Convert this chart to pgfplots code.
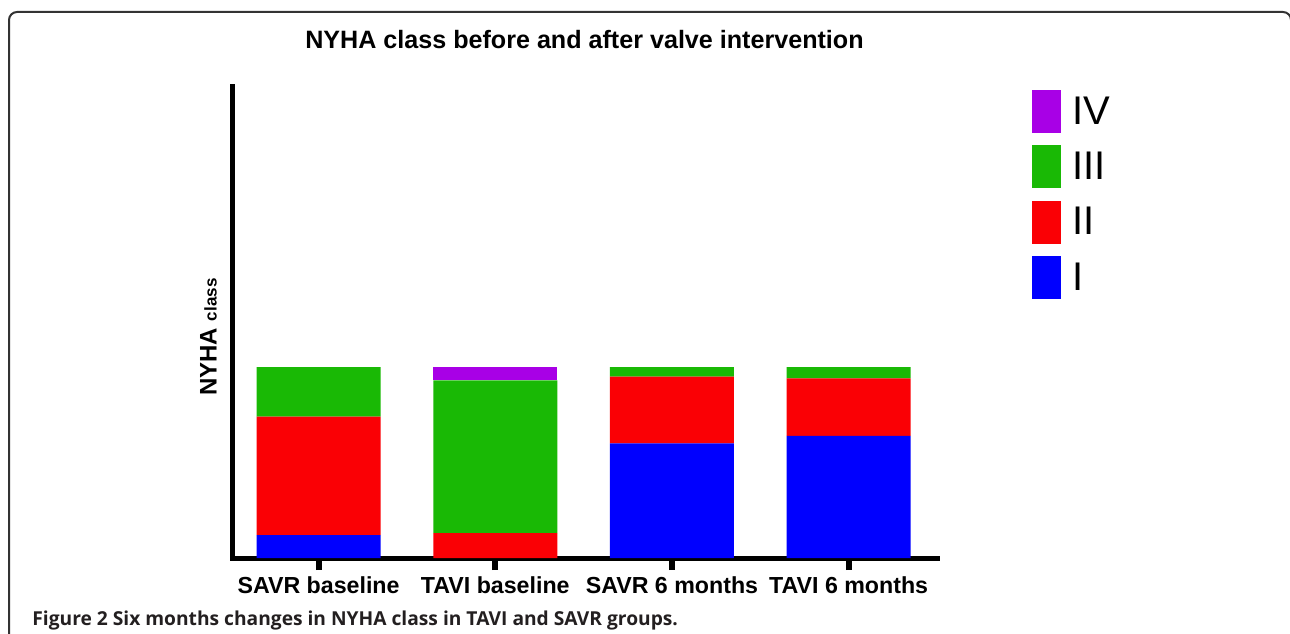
\documentclass[border=0pt]{standalone}
\usepackage{pgfplots}
\usepackage{pgfplotstable}
\pgfplotsset{compat=1.18}
\usepackage{fontspec}
\setmainfont{Liberation Sans}
\newfontfamily\capfont{Open Sans}
\definecolor{cI}{RGB}{0,0,255}
\definecolor{cII}{RGB}{250,0,5}
\definecolor{cIII}{RGB}{25,185,5}
\definecolor{cIV}{RGB}{168,0,230}
\definecolor{capgray}{RGB}{35,31,32}
\pgfplotstableread{
x I II III IV
0 12 62 26 0
1 0 13 80 7
2 60 35 5 0
3 64 30 6 0
}\datatable
\begin{document}
\begin{tikzpicture}
\useasboundingbox (0pt,0pt) rectangle (645pt,316.5pt);
\draw[line width=1pt, color=black!80, rounded corners=4pt] (4.5pt,-3pt) -- (4.5pt,310.5pt) -- (645.5pt,310.5pt) -- (645.5pt,-3pt);
\begin{axis}[
  at={(116pt,37.5pt)}, anchor=south west, scale only axis,
  width=352.5pt, height=235.5pt,
  ybar stacked, bar width=0.702,
  xmin=-0.49, xmax=3.5, ymin=0, ymax=246.6,
  axis lines*=left,
  axis line style={line width=2.5pt, line cap=rect},
  ytick=\empty,
  xtick={0,1,2,3},
  xticklabels={SAVR baseline, TAVI baseline, SAVR 6 months, TAVI 6 months},
  tick align=outside,
  major tick length=6pt,
  xtick style={line width=3pt, black},
  xticklabel style={font=\bfseries\fontsize{11.6}{13}\selectfont, anchor=north, inner sep=0pt, yshift=-3pt},
  title={NYHA class before and after valve intervention},
  title style={at={(axis description cs:0.5,1.0567)}, anchor=base, font=\bfseries\fontsize{12.56}{15}\selectfont},
  ylabel={NYHA {\fontsize{8.5}{10}\selectfont class}},
  ylabel style={at={(axis description cs:-0.0217,0.469)}, anchor=base, font=\bfseries\fontsize{12}{14}\selectfont},
  legend image code/.code={\fill[#1] (0pt,-10.55pt) rectangle (14.5pt,10.95pt);},
  reverse legend,
  legend cell align=left,
  legend style={at={(axis description cs:1.1348,0.9936)}, anchor=north west, draw=none, fill=none, inner sep=0pt, outer sep=0pt, row sep=6.2pt, font=\fontsize{20}{24}\selectfont, nodes={inner sep=0pt}, /tikz/every odd column/.append style={column sep=5.5pt}},
]
\addplot[fill=cI, draw=none] table[x=x,y=I]{\datatable};
\addplot[fill=cII, draw=none] table[x=x,y=II]{\datatable};
\addplot[fill=cIII, draw=none] table[x=x,y=III]{\datatable};
\addplot[fill=cIV, draw=none] table[x=x,y=IV]{\datatable};
\legend{I, II, III, IV}
\end{axis}
\node[anchor=base west, inner sep=0pt, text=capgray] at (16pt,4pt) {\capfont\bfseries\fontsize{9.6}{12}\selectfont Figure 2 Six months changes in NYHA class in TAVI and SAVR groups.};
\end{tikzpicture}
\end{document}
